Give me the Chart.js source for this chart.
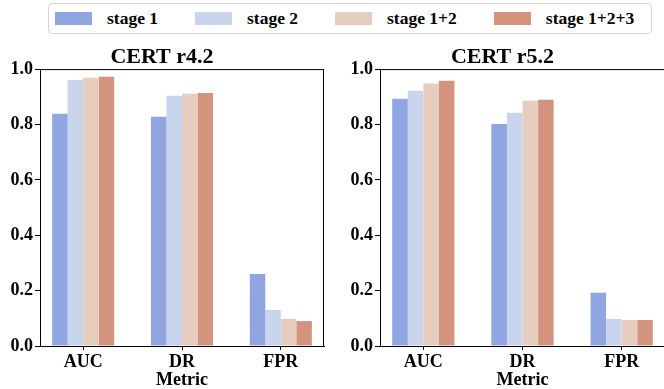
<!DOCTYPE html>
<html>
<head>
<meta charset="utf-8">
<script src="https://cdn.jsdelivr.net/npm/chart.js@4"></script>
<style>
  body { margin: 0; width: 664px; height: 389px; overflow: hidden; background: #fff; position: relative; }
  canvas { position: absolute; top: 0; }
  #legend {
    position: absolute; left: 48px; top: 3px; width: 596px; height: 29px;
    border: 1px solid #d5d5d5; border-radius: 4px; background: #fff; z-index: 2;
    display: flex; align-items: center; padding-left: 6px; box-sizing: content-box;
    font: bold 17.5px "Liberation Serif", serif; color: #000; white-space: nowrap;
  }
  .item { display: flex; align-items: center; margin-right: 37px; flex: none; }
  .sw { width: 37px; height: 13px; margin-right: 15px; flex: none; }
</style>
</head>
<body>
<div id="legend"></div>
<canvas id="c1" width="332" height="389" style="left:0"></canvas>
<canvas id="c2" width="350" height="389" style="left:340px"></canvas>
<script>
const metrics = ['AUC', 'DR', 'FPR'];
const stages = ['stage 1', 'stage 2', 'stage 1+2', 'stage 1+2+3'];
const colors = ['#90a6e2', '#c9d5ec', '#e6cdbe', '#d4937c'];
const yTicks = [0, 0.2, 0.4, 0.6, 0.8, 1.0];

// values per stage, in order AUC, DR, FPR
const r42 = [
  [0.839, 0.828, 0.260],
  [0.961, 0.904, 0.130],
  [0.969, 0.911, 0.098],
  [0.972, 0.914, 0.090]
];
const r52 = [
  [0.893, 0.802, 0.192],
  [0.922, 0.842, 0.098],
  [0.948, 0.886, 0.094],
  [0.958, 0.889, 0.094]
];

const fontFam = '"Liberation Serif", "Times New Roman", serif';

// html legend across both panels
const leg = document.getElementById('legend');
stages.forEach((s, i) => {
  const it = document.createElement('div');
  it.className = 'item';
  it.innerHTML = '<div class="sw" style="background:' + colors[i] + '"></div><span>' + s + '</span>';
  leg.appendChild(it);
});

// top/right spines like matplotlib (right panel's right spine is cut off)
const frame = {
  id: 'frame',
  afterDraw(chart) {
    const a = chart.chartArea, c = chart.ctx;
    c.save();
    c.strokeStyle = '#000';
    c.lineWidth = 1;
    c.beginPath();
    c.moveTo(a.left, a.top + 0.5);
    c.lineTo(a.right, a.top + 0.5);
    if (chart.canvas.id === 'c1') {
      c.moveTo(a.right - 0.5, a.top);
      c.lineTo(a.right - 0.5, a.bottom);
    }
    c.stroke();
    c.restore();
  }
};

function makeChart(id, title, vals, padRight) {
  return new Chart(document.getElementById(id), {
    type: 'bar',
    data: {
      datasets: stages.map((s, i) => ({
        label: s,
        data: vals[i].map((v, j) => ({ x: j, y: v })),
        backgroundColor: colors[i],
        borderWidth: 0
      }))
    },
    options: {
      responsive: false,
      animation: false,
      categoryPercentage: 0.628,
      barPercentage: 1,
      layout: { padding: { left: 0, right: padRight, top: 0, bottom: 0 } },
      plugins: {
        legend: { display: false },
        tooltip: { enabled: false },
        title: {
          display: true,
          text: title,
          color: '#000',
          font: { family: fontFam, size: 22, weight: 'bold', lineHeight: 1.05 },
          padding: { top: 46, bottom: 0 }
        }
      },
      scales: {
        x: {
          type: 'linear',
          offset: false,
          min: -0.437,
          max: 2.437,
          afterBuildTicks: (sc) => { sc.ticks = metrics.map((m, i) => ({ value: i })); },
          afterFit: (sc) => { sc.height = 43; },
          ticks: {
            callback: (v) => metrics[v],
            color: '#000',
            padding: 2,
            maxRotation: 0,
            font: { family: fontFam, size: 18, weight: 'bold' }
          },
          grid: { offset: false, drawOnChartArea: false, drawTicks: true, tickLength: 4, color: '#000' },
          border: { color: '#000', width: 1 },
          title: {
            display: true,
            text: 'Metric',
            color: '#000',
            padding: { top: 0, bottom: 0 },
            font: { family: fontFam, size: 18, weight: 'bold', lineHeight: 1.0 }
          }
        },
        y: {
          min: 0,
          max: 1,
          afterBuildTicks: (sc) => { sc.ticks = yTicks.map(v => ({ value: v })); },
          afterFit: (sc) => { sc.width = 40; },
          ticks: {
            callback: (v) => v.toFixed(1),
            color: '#000',
            padding: 2,
            font: { family: fontFam, size: 18, weight: 'bold' }
          },
          grid: { drawOnChartArea: false, drawTicks: true, tickLength: 5, color: '#000' },
          border: { color: '#000', width: 1 }
        }
      }
    },
    plugins: [frame]
  });
}

makeChart('c1', 'CERT r4.2', r42, 8);
makeChart('c2', 'CERT r5.2', r52, 25);
</script>
</body>
</html>
